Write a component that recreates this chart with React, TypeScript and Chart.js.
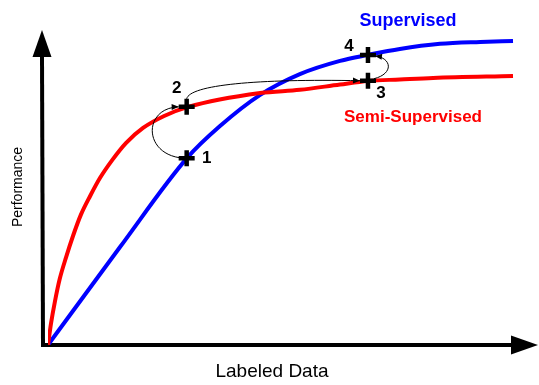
import { useEffect, useRef } from "react";
import { Chart, registerables } from "chart.js";

Chart.register(...registerables);

// ---- data (arbitrary conceptual units 0..100) ----
const supervisedX = [0, 14.7, 28.4, 35.1, 43.3, 51.4, 59.6, 65.3, 71.8, 80.0, 88.2, 94.9];
const supervisedY = [0, 31.1, 59.4, 69.5, 79.4, 86.0, 90.2, 92.1, 94.0, 95.6, 96.2, 96.5];

const semiX = [0, 0.6, 1.4, 2.4, 3.7, 5.1, 6.7, 8.6, 10.6, 13.1, 15.9, 19.4, 23.7, 28.6, 43.3, 51.4, 59.6, 65.3, 71.8, 78.6, 94.9];
const semiY = [0, 6.7, 13.7, 21.0, 27.9, 34.6, 41.3, 47.3, 53.0, 58.7, 64.1, 68.9, 72.7, 75.6, 80.0, 81.0, 82.7, 83.8, 84.3, 84.8, 85.4];

const stepX = [28.3, 28.3, 65.3, 65.3];
const stepY = [59.3, 75.6, 83.9, 92.1];
const stepLabels = ["1", "2", "3", "4"];

const seriesNames = ["Supervised", "Semi-Supervised"];
const xTitle = "Labeled Data";
const yTitle = "Performance";

const BLUE = "#0000ff";
const RED = "#ff0000";
const FONT = "'Liberation Sans', Arial, sans-serif";

function arrowCurve(
  ctx: CanvasRenderingContext2D,
  x0: number, y0: number,
  c1x: number, c1y: number,
  c2x: number, c2y: number,
  x1: number, y1: number
) {
  ctx.beginPath();
  ctx.moveTo(x0, y0);
  ctx.bezierCurveTo(c1x, c1y, c2x, c2y, x1, y1);
  ctx.stroke();
  const ang = Math.atan2(y1 - c2y, x1 - c2x);
  const len = 7, hw = 3;
  const bx = x1 - Math.cos(ang) * len;
  const by = y1 - Math.sin(ang) * len;
  ctx.beginPath();
  ctx.moveTo(x1, y1);
  ctx.lineTo(bx + Math.sin(ang) * hw, by - Math.cos(ang) * hw);
  ctx.lineTo(bx - Math.sin(ang) * hw, by + Math.cos(ang) * hw);
  ctx.closePath();
  ctx.fill();
}

const overlay = {
  id: "overlay",
  beforeDatasetsDraw(chart: any) {
    const ctx: CanvasRenderingContext2D = chart.ctx;
    const xs = chart.scales.x;
    const ys = chart.scales.y;
    const area = chart.chartArea;
    const ax = xs.getPixelForValue(0) - 5;
    const ay = ys.getPixelForValue(0);
    ctx.save();
    ctx.strokeStyle = "#000";
    ctx.fillStyle = "#000";
    ctx.lineWidth = 4;
    // y axis
    ctx.beginPath();
    ctx.moveTo(ax, ay + 2);
    ctx.lineTo(ax - 1, area.top + 26);
    ctx.stroke();
    ctx.beginPath();
    ctx.moveTo(ax - 1, area.top);
    ctx.lineTo(ax - 10.5, area.top + 27);
    ctx.lineTo(ax + 8.5, area.top + 27);
    ctx.closePath();
    ctx.fill();
    // x axis
    ctx.beginPath();
    ctx.moveTo(ax - 2, ay);
    ctx.lineTo(area.right - 24, ay);
    ctx.stroke();
    ctx.beginPath();
    ctx.moveTo(area.right, ay);
    ctx.lineTo(area.right - 27, ay - 9.5);
    ctx.lineTo(area.right - 27, ay + 9.5);
    ctx.closePath();
    ctx.fill();

    // axis titles
    ctx.fillStyle = "#000";
    ctx.font = `19px ${FONT}`;
    ctx.textAlign = "center";
    ctx.textBaseline = "middle";
    ctx.fillText(xTitle, 272, 372);
    ctx.save();
    ctx.translate(18, 187);
    ctx.rotate(-Math.PI / 2);
    ctx.font = `14px ${FONT}`;
    ctx.fillText(yTitle, 0, 0);
    ctx.restore();
    ctx.restore();
  },
  afterDatasetsDraw(chart: any) {
    const ctx: CanvasRenderingContext2D = chart.ctx;
    const xs = chart.scales.x;
    const ys = chart.scales.y;
    const p = stepX.map((v, i) => ({ x: xs.getPixelForValue(v), y: ys.getPixelForValue(stepY[i]) }));
    ctx.save();
    ctx.strokeStyle = "#000";
    ctx.fillStyle = "#000";
    ctx.lineWidth = 1;
    // 1 -> 2
    arrowCurve(ctx, p[0].x - 3, p[0].y, p[0].x - 44, p[0].y - 3, p[1].x - 44, p[1].y + 1, p[1].x - 8, p[1].y);
    // 2 -> 3
    arrowCurve(ctx, p[1].x, p[1].y - 8, p[1].x + 3, p[1].y - 22, p[1].x + 70, p[2].y - 2, p[2].x - 8, p[2].y);
    // 3 -> 4
    arrowCurve(ctx, p[2].x + 6, p[2].y - 2, p[2].x + 26, p[2].y - 7, p[3].x + 24, p[3].y + 3, p[3].x + 7, p[3].y + 1);

    // step labels
    const offs = [[20, 0], [-10, -19], [13, 13], [-19, -9]];
    ctx.font = `bold 17px ${FONT}`;
    ctx.textAlign = "center";
    ctx.textBaseline = "middle";
    stepLabels.forEach((t, i) => {
      ctx.fillText(t, p[i].x + offs[i][0], p[i].y + offs[i][1]);
    });

    // series labels
    ctx.font = `bold 18px ${FONT}`;
    ctx.fillStyle = BLUE;
    ctx.fillText(seriesNames[0], 408, 21);
    ctx.font = `bold 17px ${FONT}`;
    ctx.fillStyle = RED;
    ctx.fillText(seriesNames[1], 413, 117);
    ctx.restore();
  },
};

export default function App() {
  const ref = useRef<HTMLCanvasElement | null>(null);
  useEffect(() => {
    if (!ref.current) return;
    const chart = new Chart(ref.current, {
      type: "scatter",
      data: {
        datasets: [
          {
            label: "steps",
            data: stepX.map((x, i) => ({ x, y: stepY[i] })),
            showLine: false,
            pointStyle: "cross",
            pointRadius: 8,
            pointBorderWidth: 4.5,
            borderColor: "#000",
            backgroundColor: "#000",
            order: 0,
          } as any,
          {
            label: seriesNames[1],
            data: semiX.map((x, i) => ({ x, y: semiY[i] })),
            showLine: true,
            borderColor: RED,
            borderWidth: 4,
            pointRadius: 0,
            cubicInterpolationMode: "monotone",
            order: 1,
          } as any,
          {
            label: seriesNames[0],
            data: supervisedX.map((x, i) => ({ x, y: supervisedY[i] })),
            showLine: true,
            borderColor: BLUE,
            borderWidth: 4,
            pointRadius: 0,
            cubicInterpolationMode: "monotone",
            order: 2,
          } as any,
        ],
      },
      options: {
        animation: false,
        responsive: false,
        maintainAspectRatio: false,
        layout: { autoPadding: false, padding: { left: 48, right: 1, top: 30, bottom: 40 } },
        scales: {
          x: { type: "linear", min: 0, max: 100, display: false },
          y: { type: "linear", min: 0, max: 100, display: false },
        },
        plugins: { legend: { display: false }, tooltip: { enabled: false } },
        events: [],
      },
      plugins: [overlay],
    });
    return () => chart.destroy();
  }, []);
  return (
    <div style={{ position: "fixed", left: 0, top: 0, width: 539, height: 385, background: "#fff" }}>
      <canvas ref={ref} width={539} height={385} style={{ display: "block" }} />
    </div>
  );
}
